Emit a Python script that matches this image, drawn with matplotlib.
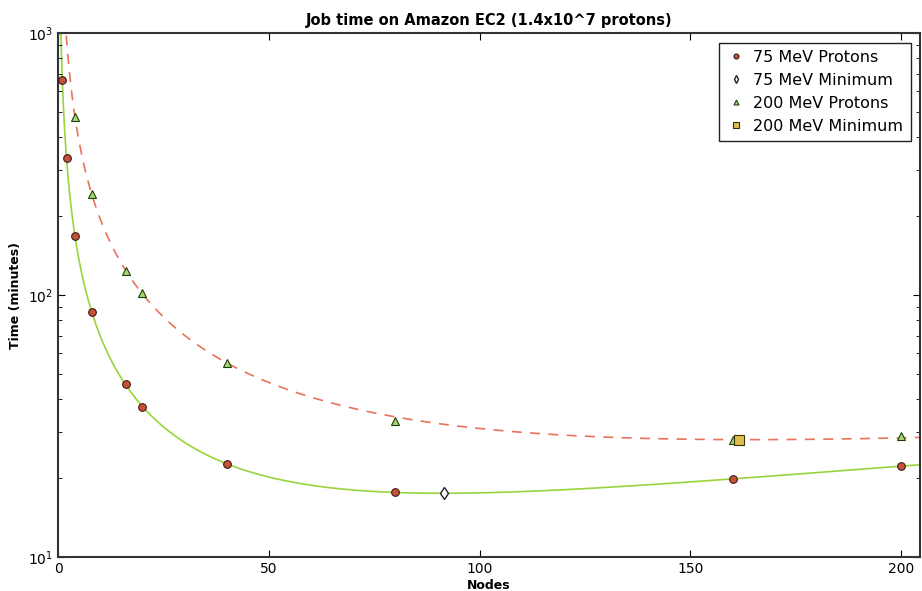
import numpy as np
import matplotlib
matplotlib.use("Agg")
import matplotlib.pyplot as plt

nodes_75 = [1, 2, 4, 8, 16, 20, 40, 80, 160, 200]
time_75 = [662, 333, 168, 86, 45.7, 37.4, 22.6, 17.7, 19.9, 22.2]
nodes_200 = [4, 8, 16, 20, 40, 80, 160, 200]
time_200 = [478, 243, 124, 102, 55, 33, 28, 29]
min_75 = (91.5, 17.5)
min_200 = (161.5, 28.0)


def fit(n, t):
    # t = a/n + b*n + c, least squares on the read points
    n = np.asarray(n, float)
    A = np.column_stack([1.0 / n, n, np.ones_like(n)])
    coef, *_ = np.linalg.lstsq(A, np.asarray(t, float), rcond=None)
    return coef


def model(coef, n):
    return coef[0] / n + coef[1] * n + coef[2]


c75 = fit(nodes_75, time_75)
c200 = fit(nodes_200, time_200)
xs = np.linspace(0.5, 206, 800)

fig = plt.figure(figsize=(9.22, 5.91), dpi=100)
ax = fig.add_axes([0.063, 0.0575, 0.935, 0.8865])

ax.plot(xs, model(c75, xs), '-', color='#9ad43c', lw=1.2, zorder=1)
ax.plot(xs, model(c200, xs), '--', color='#e8735a', lw=1.2, dashes=(6, 5), zorder=1)

ax.plot(nodes_75, time_75, 'o', ms=5.5, mfc='#c9503a', mec='#3a1a10', mew=0.8,
        label='75 MeV Protons', zorder=3)
ax.plot([min_75[0]], [min_75[1]], 'd', ms=6, mfc='white', mec='#222222', mew=1.0,
        label='75 MeV Minimum', zorder=3)
ax.plot(nodes_200, time_200, '^', ms=5.5, mfc='#a6d96a', mec='#1f3d10', mew=0.8,
        label='200 MeV Protons', zorder=3)
ax.plot([min_200[0]], [min_200[1]], 's', ms=7, mfc='#e0bf50', mec='#333300', mew=0.8,
        label='200 MeV Minimum', zorder=4)

ax.set_yscale('log')
ax.set_ylim(10, 1000)
ax.set_xlim(0, 204.5)
ax.set_xticks([0, 50, 100, 150, 200])

ax.tick_params(which='both', direction='in', top=True, right=True, labelsize=10)
ax.tick_params(which='major', length=5)
ax.tick_params(which='minor', length=3)
for s in ax.spines.values():
    s.set_color('#333333')
    s.set_linewidth(1.5)

ax.set_title('Job time on Amazon EC2 (1.4x10^7 protons)', fontsize=10.5, fontweight='bold')
ax.set_xlabel('Nodes', fontsize=9, fontweight='bold', labelpad=2)
ax.set_ylabel('Time (minutes)', fontsize=9, fontweight='bold')

leg = ax.legend(loc='upper right', numpoints=1, fontsize=11.5, markerscale=0.65,
                fancybox=False, framealpha=1, handletextpad=0.5, borderpad=0.45,
                handlelength=1.2, labelspacing=0.5, borderaxespad=0.6)
leg.get_frame().set_edgecolor('#222222')

fig.savefig('out.png', dpi=100)
